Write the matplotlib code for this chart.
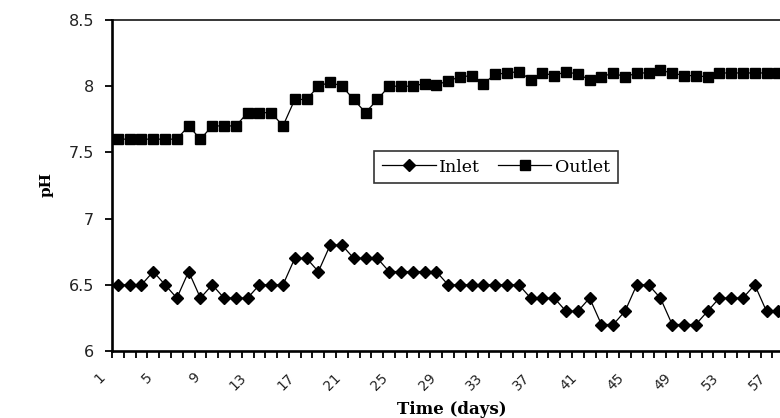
import numpy as np
import matplotlib
matplotlib.use('Agg')
import matplotlib.pyplot as plt
import matplotlib.transforms as mtransforms

days = list(range(1, 58))
inlet = [6.5, 6.5, 6.5, 6.6, 6.5, 6.4, 6.6, 6.4, 6.5, 6.4,
         6.4, 6.4, 6.5, 6.5, 6.5, 6.7, 6.7, 6.6, 6.8, 6.8,
         6.7, 6.7, 6.7, 6.6, 6.6, 6.6, 6.6, 6.6, 6.5, 6.5,
         6.5, 6.5, 6.5, 6.5, 6.5, 6.4, 6.4, 6.4, 6.3, 6.3,
         6.4, 6.2, 6.2, 6.3, 6.5, 6.5, 6.4, 6.2, 6.2, 6.2,
         6.3, 6.4, 6.4, 6.4, 6.5, 6.3, 6.3]
outlet = [7.6, 7.6, 7.6, 7.6, 7.6, 7.6, 7.7, 7.6, 7.7, 7.7,
          7.7, 7.8, 7.8, 7.8, 7.7, 7.9, 7.9, 8.0, 8.03, 8.0,
          7.9, 7.8, 7.9, 8.0, 8.0, 8.0, 8.02, 8.01, 8.04, 8.07,
          8.08, 8.02, 8.09, 8.1, 8.11, 8.05, 8.1, 8.08, 8.11, 8.09,
          8.05, 8.07, 8.1, 8.07, 8.1, 8.1, 8.12, 8.1, 8.08, 8.08,
          8.07, 8.1, 8.1, 8.1, 8.1, 8.1, 8.1]
label_days = list(range(1, 58, 4))
y_ticks = [6, 6.5, 7, 7.5, 8, 8.5]

fig = plt.figure(figsize=(7.8, 4.18), dpi=100)
# axes runs past the right edge of the picture, like the cropped original
ax = fig.add_axes([112 / 780, 67 / 418, 684 / 780, 331 / 418])

ax.plot(days, inlet, color='black', lw=0.9, marker='D', ms=5.8, label='Inlet')
ax.plot(days, outlet, color='black', lw=0.9, marker='s', ms=6.5, label='Outlet')

ax.set_xlim(0.5, 58.5)
ax.set_ylim(6, 8.5)
ax.set_yticks(y_ticks)
ax.set_yticklabels([('%g' % v) for v in y_ticks])
ax.set_xticks(label_days)
ax.set_xticklabels([str(d) for d in label_days], rotation=45, ha='right')
ax.set_xticks(np.arange(0.5, 59, 1), minor=True)

ax.tick_params(axis='x', which='major', length=0, pad=14, labelsize=10)
ax.tick_params(axis='x', which='minor', length=5, width=1.3, direction='out')
ax.tick_params(axis='y', which='major', length=5, width=1.3, direction='out',
               pad=8, labelsize=11.5)
for lab in ax.get_xticklabels() + ax.get_yticklabels():
    lab.set_family('DejaVu Sans')
    lab.set_color('#222222')

shift = mtransforms.ScaledTranslation(-0.1, 0, fig.dpi_scale_trans)
for lab in ax.get_xticklabels():
    lab.set_transform(lab.get_transform() + shift)

ax.spines['left'].set_linewidth(1.9)
ax.spines['bottom'].set_linewidth(1.9)
ax.spines['top'].set_linewidth(1.1)
ax.spines['right'].set_visible(False)

fig.text(47 / 780, 1 - 185 / 418, 'pH', rotation=90, ha='center', va='center',
         family='DejaVu Serif', fontweight='bold', fontsize=11)
fig.text(452 / 780, 1 - 409 / 418, 'Time (days)', ha='center', va='center',
         family='DejaVu Serif', fontweight='bold', fontsize=12)

leg = ax.legend(loc='center', bbox_to_anchor=(496 / 780, 1 - 167 / 418),
                bbox_transform=fig.transFigure, ncol=2, numpoints=1,
                frameon=True, fancybox=False, shadow=False,
                handlelength=3.1, handletextpad=0.2, columnspacing=1.0,
                borderpad=0.45, borderaxespad=0,
                prop={'family': 'DejaVu Serif', 'size': 12.5})
leg.get_frame().set_edgecolor('black')
leg.get_frame().set_linewidth(1.2)

plt.savefig('out.png', dpi=100)
plt.close()
